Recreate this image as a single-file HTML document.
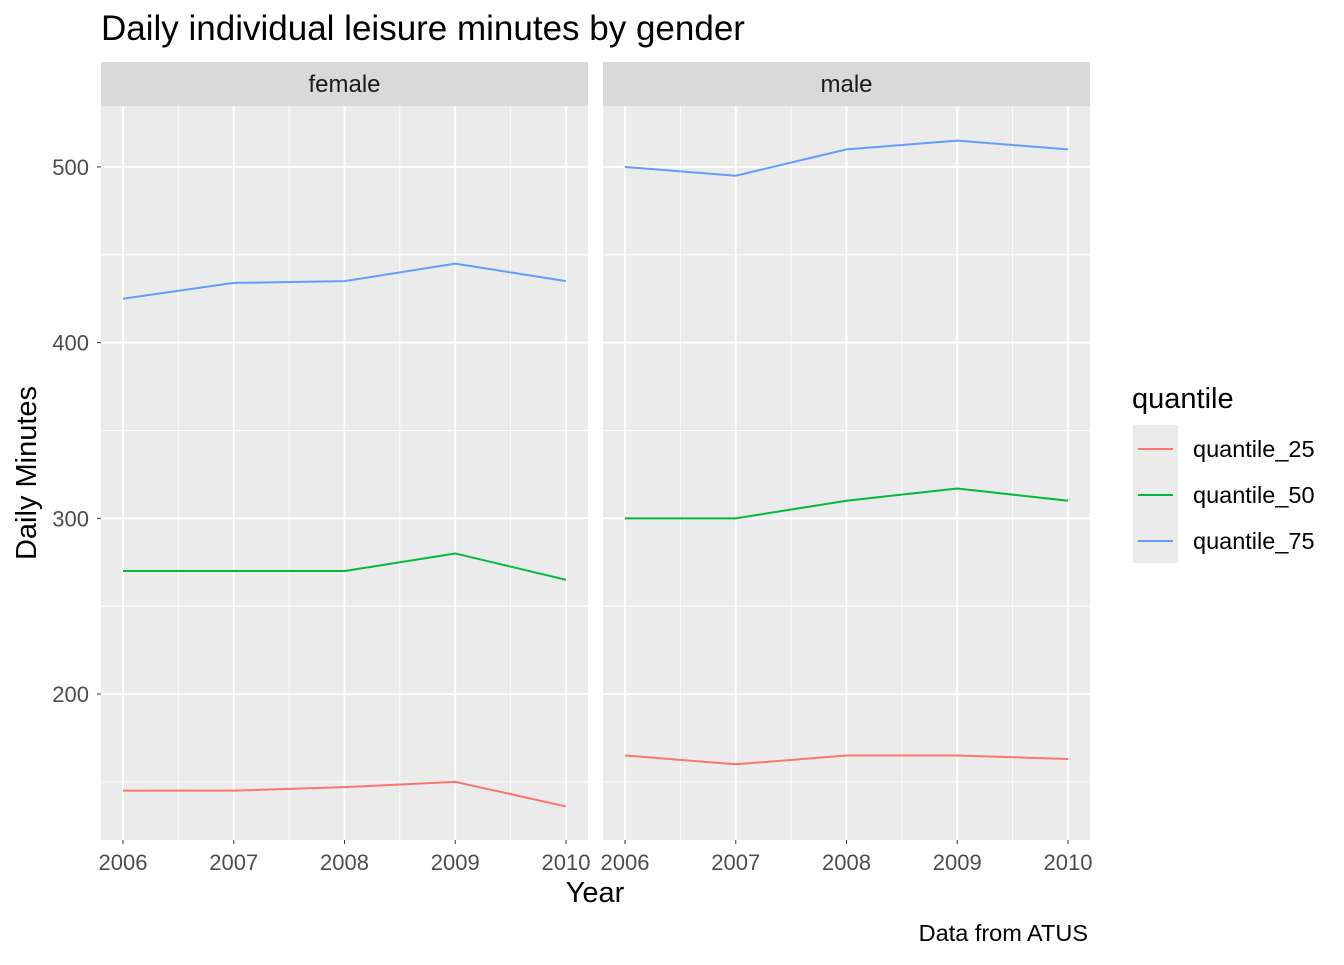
<!DOCTYPE html>
<html><head><meta charset="utf-8"><style>
body{margin:0;background:#fff;font-family:"Liberation Sans",Arial,sans-serif}
svg text{font-family:"Liberation Sans",Arial,sans-serif}
</style></head><body>
<svg id="chart" width="1344" height="960" xmlns="http://www.w3.org/2000/svg">
<text x="101" y="40" font-size="35" fill="#000">Daily individual leisure minutes by gender</text>
<g id="panels"></g>
<text x="595" y="902" font-size="29" text-anchor="middle">Year</text>
<text transform="translate(36,473) rotate(-90)" font-size="29" text-anchor="middle">Daily Minutes</text>
<text x="1088" y="941" font-size="23.5" text-anchor="end">Data from ATUS</text>
<g>
<text x="1132" y="408" font-size="29">quantile</text>
<rect x="1133" y="425" width="45" height="138" fill="#ebebeb"/>
<line x1="1138" x2="1173" y1="449" y2="449" stroke="#F8766D" stroke-width="2"/>
<line x1="1138" x2="1173" y1="495" y2="495" stroke="#00BA38" stroke-width="2"/>
<line x1="1138" x2="1173" y1="541" y2="541" stroke="#619CFF" stroke-width="2"/>
<text x="1193" y="457" font-size="23.5">quantile_25</text>
<text x="1193" y="503" font-size="23.5">quantile_50</text>
<text x="1193" y="549" font-size="23.5">quantile_75</text>
</g>
</svg>
<script>
const years=[2006,2007,2008,2009,2010];
const yTicks=[200,300,400,500];
const facets=["female","male"];
const female_q25=[145,145,147,150,136];
const female_q50=[270,270,270,280,265];
const female_q75=[425,434,435,445,435];
const male_q25=[165,160,165,165,163];
const male_q50=[300,300,310,317,310];
const male_q75=[500,495,510,515,510];
const seriesData={female:[female_q25,female_q50,female_q75],male:[male_q25,male_q50,male_q75]};
const colors=["#F8766D","#00BA38","#619CFF"];
const NS="http://www.w3.org/2000/svg";
const g=document.getElementById('panels');
const pTop=106,pBot=840;
const yMin=116.9,yMax=534.7;
function yS(v){return pBot-(v-yMin)/(yMax-yMin)*(pBot-pTop);}
function mk(tag,attrs,parent){const e=document.createElementNS(NS,tag);for(const k in attrs)e.setAttribute(k,attrs[k]);parent.appendChild(e);return e;}
const panelX=[101,603],pW=487;
facets.forEach((f,fi)=>{
 const x0=panelX[fi];
 const xS=y=>x0+22+(y-2006)/4*(pW-44);
 const strip=mk('rect',{x:x0,y:62,width:pW,height:44,fill:'#d9d9d9'},g);
 
 
 const st=mk('text',{x:x0+pW/2,y:92,'font-size':24,'text-anchor':'middle',fill:'#1a1a1a'},g);
 st.textContent=f;
 
 
 const bg=mk('rect',{x:x0,y:pTop,width:pW,height:pBot-pTop,fill:'#ebebeb'},g);
 
 
 for(let i=0;i<years.length-1;i++){const xm=(xS(years[i])+xS(years[i+1]))/2;mk('line',{x1:xm,x2:xm,y1:pTop,y2:pBot,stroke:'#fff','stroke-width':0.8},g);}
 for(let i=0;i<yTicks.length;i++){[yTicks[i]-50,yTicks[i]+50].forEach(v=>{if(v>yMin&&v<yMax&&v%100==50){const yy=yS(v);mk('line',{x1:x0,x2:x0+pW,y1:yy,y2:yy,stroke:'#fff','stroke-width':0.8},g);}});}
 yTicks.forEach(v=>{const yy=yS(v);mk('line',{x1:x0,x2:x0+pW,y1:yy,y2:yy,stroke:'#fff','stroke-width':1.8},g);
  if(fi===0){mk('line',{x1:x0-4,x2:x0,y1:yy,y2:yy,stroke:'#333'},g);const t=mk('text',{x:x0-12,y:yy+8,'font-size':22,'text-anchor':'end',fill:'#4d4d4d'},g);t.textContent=v;
  
  }});
 years.forEach(y=>{const xx=xS(y);mk('line',{x1:xx,x2:xx,y1:pTop,y2:pBot,stroke:'#fff','stroke-width':1.8},g);
  mk('line',{x1:xx,x2:xx,y1:pBot,y2:pBot+4,stroke:'#333'},g);
  const t=mk('text',{x:xx,y:870,'font-size':22,'text-anchor':'middle',fill:'#4d4d4d'},g);t.textContent=y;
  
  });
 seriesData[f].forEach((arr,si)=>{
  const pts=arr.map((v,i)=>xS(years[i])+','+yS(v)).join(' ');
  const pl=mk('polyline',{points:pts,fill:'none',stroke:colors[si],'stroke-width':2},g);
  
  
 });
});
</script>
</body></html>
